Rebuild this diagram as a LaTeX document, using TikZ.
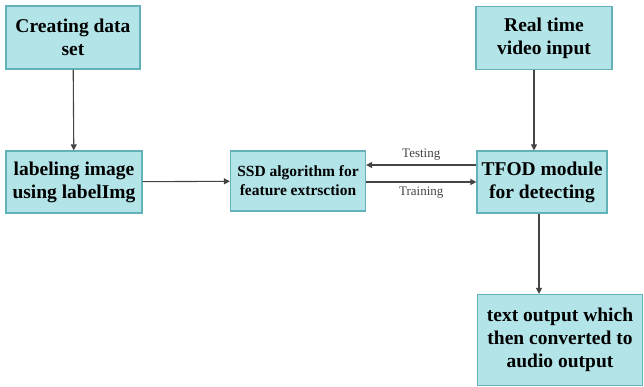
\documentclass[tikz,border=0pt]{standalone}
\usepackage{fontspec}
\setmainfont{Liberation Serif}
\usetikzlibrary{arrows.meta}
\definecolor{boxfill}{HTML}{B2E4E8}
\definecolor{boxline}{HTML}{62B2B8}
\definecolor{wire}{HTML}{444444}

\begin{document}
\begin{tikzpicture}[x = 1pt, y = -1pt,
        block/.style = {draw = boxline, line width = 1.2pt, fill = boxfill, align = center, inner sep = 0pt, font = \fontsize{19.5}{23}\selectfont\bfseries, minimum width = #1},
        flow/.style = {draw = wire, line width = 1.1pt, -{Triangle[length = 6pt, width = 6pt]}},
        tag/.style = {font = \fontsize{13}{15}\selectfont, text = wire}]
    \useasboundingbox (0, 0) rectangle (644, 387);

    % boxes
    \node[block = 134pt, minimum height = 63pt] (dataset) at (73, 37.5) {Creating data\\set};
    \node[block = 136pt, minimum height = 62pt] (labeling) at (74, 182) {labeling image\\using labelImg};
    \node[block = 135pt, minimum height = 60pt, font = \fontsize{15.5}{19}\selectfont\bfseries] (ssd) at (298, 181) {SSD algorithm for\\feature extrsction};
    \node[block = 136pt, minimum height = 63pt] (video) at (544, 38) {Real time\\video input};
    \node[block = 130pt, minimum height = 62pt] (tfod) at (542, 182) {TFOD module\\for detecting};
    \node[block = 165pt, minimum height = 91pt] (output) at (560, 340) {text output which\\then converted to\\audio output};

    % links
    \draw[flow] (dataset) -- (labeling);
    \draw[flow] (labeling) -- (ssd);
    \draw[flow] (video.south -| 534, 0) -- (tfod.north -| 534, 0);
    \draw[flow] (tfod.south -| 539, 0) -- (output.north -| 539, 0);
    \draw[flow] (tfod.west |- 0, 165) -- node[tag, above = 1pt] {Testing} (ssd.east |- 0, 165);
    \draw[flow] (ssd.east |- 0, 182) -- node[tag, below = 1pt] {Training} (tfod.west |- 0, 182);
\end{tikzpicture}
\end{document}
